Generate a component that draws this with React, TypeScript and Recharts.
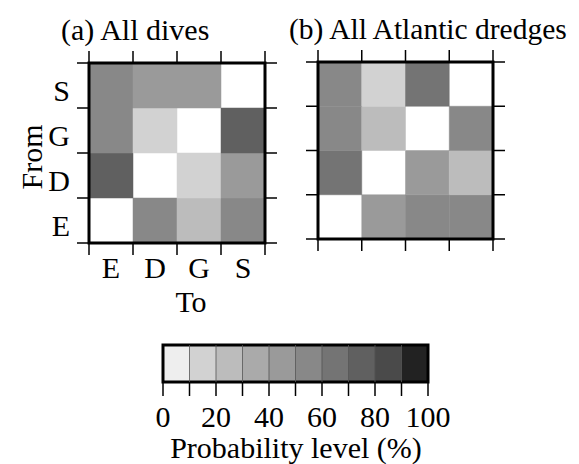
import React from 'react';
import { ComposedChart, XAxis, YAxis, ReferenceArea, ReferenceLine } from 'recharts';

// Categories in axis order (left→right, bottom→top)
const fromLabels = ['E', 'D', 'G', 'S'];
const toLabels = ['E', 'D', 'G', 'S'];

// Transition probabilities (%) — rows = From, columns = To; null = diagonal (blank)
const divesFromE = [null, 55, 25, 50];
const divesFromD = [75, null, 18, 48];
const divesFromG = [50, 18, null, 75];
const divesFromS = [55, 45, 45, null];

const dredgesFromE = [null, 45, 50, 50];
const dredgesFromD = [65, null, 45, 25];
const dredgesFromG = [55, 25, null, 55];
const dredgesFromS = [55, 15, 65, null];

// Colour bar
const barLevels = [0, 10, 20, 30, 40, 50, 60, 70, 80, 90];
const barGrays = [238, 210, 188, 170, 154, 136, 116, 96, 74, 34];
const barTicks = [0, 10, 20, 30, 40, 50, 60, 70, 80, 90, 100];
const barLabelTicks = [0, 20, 40, 60, 80, 100];

const FONT = 'Liberation Serif, Times New Roman, serif';
const FS = 30;

const grayOf = (v: number) => {
  const idx = Math.min(9, Math.max(0, Math.floor(v / 10)));
  const g = barGrays[idx];
  return `rgb(${g},${g},${g})`;
};

type Cell = { x: number; y: number; v: number | null };
const buildCells = (rows: (number | null)[][]): Cell[] => {
  const out: Cell[] = [];
  rows.forEach((row, r) => {
    row.forEach((v, c) => {
      out.push({ x: c, y: r, v });
    });
  });
  return out;
};

const cellsA = buildCells([divesFromE, divesFromD, divesFromG, divesFromS]);
const cellsB = buildCells([dredgesFromE, dredgesFromD, dredgesFromG, dredgesFromS]);

const boundaries = [0, 1, 2, 3, 4];
const centers = [0.5, 1.5, 2.5, 3.5];

const tickStyle = { fontSize: FS, fontFamily: FONT, fill: '#000' };
const tickLineStyle = { stroke: '#000', strokeWidth: 1.5 };

function Matrix({
  cells,
  width,
  height,
  margin,
  showLabels,
}: {
  cells: Cell[];
  width: number;
  height: number;
  margin: { top: number; left: number; right: number; bottom: number };
  showLabels: boolean;
}) {
  return (
    <ComposedChart width={width} height={height} margin={margin} data={cells}>
      <XAxis
        xAxisId="b"
        dataKey="x"
        type="number"
        orientation="bottom"
        domain={[0, 4]}
        ticks={boundaries}
        height={1}
        tickSize={12}
        tickFormatter={() => ''}
        axisLine={false}
        tickLine={tickLineStyle}
        interval={0}
        allowDataOverflow
      />
      {showLabels && (
        <XAxis
          xAxisId="bl"
          dataKey="x"
          type="number"
          orientation="bottom"
          domain={[0, 4]}
          ticks={centers}
          height={1}
          tickSize={0}
          tickMargin={13}
          tickFormatter={(v: number) => toLabels[Math.floor(v)]}
          axisLine={false}
          tickLine={false}
          tick={tickStyle}
          interval={0}
          allowDataOverflow
        />
      )}
      <XAxis
        xAxisId="t"
        dataKey="x"
        type="number"
        orientation="top"
        domain={[0, 4]}
        ticks={boundaries}
        height={1}
        tickSize={12}
        tickFormatter={() => ''}
        axisLine={false}
        tickLine={tickLineStyle}
        interval={0}
        allowDataOverflow
      />
      <YAxis
        yAxisId="l"
        dataKey="y"
        type="number"
        orientation="left"
        domain={[0, 4]}
        ticks={boundaries}
        width={1}
        tickSize={12}
        tickFormatter={() => ''}
        axisLine={false}
        tickLine={tickLineStyle}
        interval={0}
        allowDataOverflow
      />
      {showLabels && (
        <YAxis
          yAxisId="ll"
          dataKey="y"
          type="number"
          orientation="left"
          domain={[0, 4]}
          ticks={centers}
          width={1}
          tickSize={0}
          tickMargin={18}
          tickFormatter={(v: number) => fromLabels[Math.floor(v)]}
          axisLine={false}
          tickLine={false}
          tick={{ ...tickStyle, dy: 5 }}
          interval={0}
          allowDataOverflow
        />
      )}
      <YAxis
        yAxisId="r"
        dataKey="y"
        type="number"
        orientation="right"
        domain={[0, 4]}
        ticks={boundaries}
        width={1}
        tickSize={12}
        tickFormatter={() => ''}
        axisLine={false}
        tickLine={tickLineStyle}
        interval={0}
        allowDataOverflow
      />
      {cells.map((c, i) =>
        c.v === null ? null : (
          <ReferenceArea
            key={i}
            xAxisId="b"
            yAxisId="l"
            x1={c.x}
            x2={c.x + 1}
            y1={c.y}
            y2={c.y + 1}
            fill={grayOf(c.v)}
            fillOpacity={1}
            stroke={grayOf(c.v)}
            strokeWidth={0.5}
            ifOverflow="visible"
          />
        )
      )}
      <ReferenceArea
        xAxisId="b"
        yAxisId="l"
        x1={0}
        x2={4}
        y1={0}
        y2={4}
        fill="none"
        fillOpacity={0}
        stroke="#000"
        strokeWidth={3}
        ifOverflow="visible"
      />
    </ComposedChart>
  );
}

const barData = barLevels.map((l, i) => ({ l, y: i % 2 }));

function ColorBar() {
  return (
    <ComposedChart
      width={320}
      height={134}
      margin={{ top: 15, left: 23, right: 32, bottom: 80 }}
      data={barData}
    >
      <XAxis
        xAxisId="t"
        dataKey="l"
        type="number"
        domain={[0, 100]}
        ticks={barTicks}
        height={1}
        tickSize={13}
        tickFormatter={() => ''}
        axisLine={false}
        tickLine={tickLineStyle}
        interval={0}
        allowDataOverflow
      />
      <XAxis
        xAxisId="lab"
        dataKey="l"
        type="number"
        domain={[0, 100]}
        ticks={barLabelTicks}
        height={1}
        tickSize={0}
        tickMargin={24}
        axisLine={false}
        tickLine={false}
        tick={tickStyle}
        interval={0}
        allowDataOverflow
      />
      <YAxis
        yAxisId="y"
        dataKey="y"
        type="number"
        domain={[0, 1]}
        hide
        allowDataOverflow
      />
      {barLevels.map((l, i) => (
        <ReferenceArea
          key={l}
          xAxisId="t"
          yAxisId="y"
          x1={l}
          x2={l + 10}
          y1={0}
          y2={1}
          fill={`rgb(${barGrays[i]},${barGrays[i]},${barGrays[i]})`}
          fillOpacity={1}
          stroke={`rgb(${barGrays[i]},${barGrays[i]},${barGrays[i]})`}
          strokeWidth={0.5}
          ifOverflow="visible"
        />
      ))}
      {barLevels.slice(1).map((l) => (
        <ReferenceLine
          key={`d${l}`}
          xAxisId="t"
          yAxisId="y"
          x={l}
          stroke="#555"
          strokeWidth={0.8}
          ifOverflow="visible"
        />
      ))}
      <ReferenceArea
        xAxisId="t"
        yAxisId="y"
        x1={0}
        x2={100}
        y1={0}
        y2={1}
        fill="none"
        fillOpacity={0}
        stroke="#000"
        strokeWidth={3}
        ifOverflow="visible"
      />
    </ComposedChart>
  );
}

export default function App() {
  return (
    <div
      style={{
        position: 'absolute',
        left: 0,
        top: 0,
        width: 579,
        height: 464,
        background: '#fff',
        overflow: 'hidden',
      }}
    >
      <div style={{ position: 'absolute', left: 0, top: 0 }}>
        <Matrix
          cells={cellsA}
          width={290}
          height={320}
          margin={{ top: 62, left: 87, right: 24, bottom: 75 }}
          showLabels
        />
      </div>
      <div style={{ position: 'absolute', left: 290, top: 0 }}>
        <Matrix
          cells={cellsB}
          width={289}
          height={320}
          margin={{ top: 61, left: 27, right: 85, bottom: 80 }}
          showLabels={false}
        />
      </div>
      <div style={{ position: 'absolute', left: 140, top: 330 }}>
        <ColorBar />
      </div>
      <svg
        width={579}
        height={464}
        style={{ position: 'absolute', left: 0, top: 0, pointerEvents: 'none' }}
      >
        <g fontFamily={FONT} fontSize={FS} fill="#000">
          <text x={61} y={40}>(a) All dives</text>
          <text x={289} y={39} fontSize={29.5}>(b) All Atlantic dredges</text>
          <text transform="translate(42,157) rotate(-90)" textAnchor="middle">From</text>
          <text x={191} y={312} textAnchor="middle">To</text>
          <text x={296} y={458} textAnchor="middle">Probability level (%)</text>
        </g>
      </svg>
    </div>
  );
}
